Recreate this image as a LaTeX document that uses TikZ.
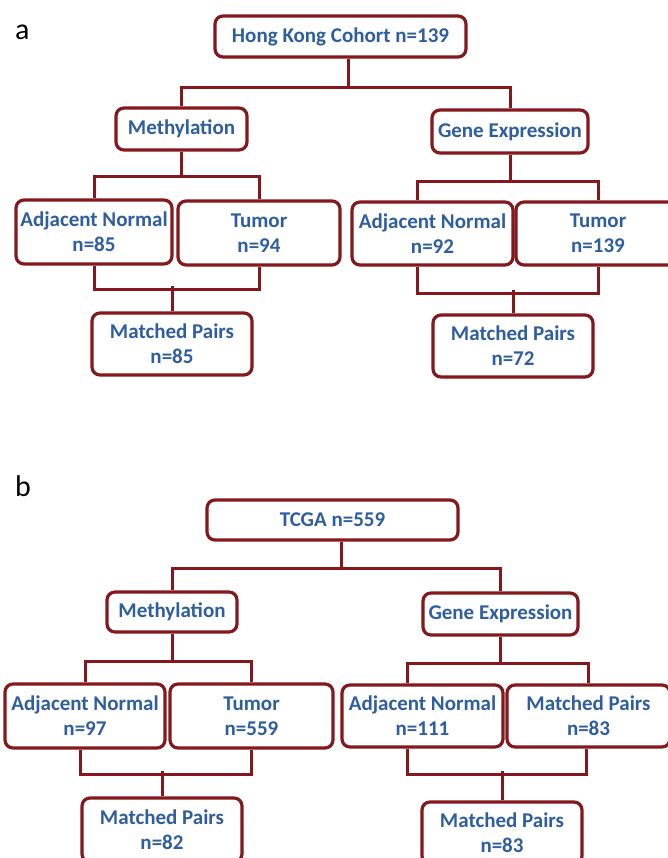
\documentclass[tikz,border=0pt]{standalone}
\usepackage{fontspec}
\setmainfont{Carlito}
\definecolor{boxred}{HTML}{85181C}
\definecolor{txtblue}{HTML}{2E5EA0}

\tikzset{
  cbox/.style={draw=boxred, line width=3.2pt, rounded corners=8pt, fill=white,
    inner sep=0pt, align=center, text=txtblue,
    font=\fontsize{21}{25}\selectfont\bfseries},
  link/.style={draw=boxred, line width=3pt},
  panel/.style={anchor=base west, inner sep=0pt, font=\fontsize{30}{30}\selectfont}
}

\begin{document}
\begin{tikzpicture}[x=1pt, y=-1pt]
\path[use as bounding box] (0,0) rectangle (668,858);

% panel a
\node[panel] (lbla) at (15,40) {a};
\node[cbox, minimum width=251, minimum height=41] (hk) at (340.5,36.5) {Hong Kong Cohort n=139};
\node[cbox, minimum width=131, minimum height=42] (me1) at (181.5,129) {Methylation};
\node[cbox, minimum width=156, minimum height=43] (ge1) at (510,131.5) {Gene Expression};
\node[cbox, minimum width=156, minimum height=64] (an1) at (94,232) {Adjacent Normal\\n=85};
\node[cbox, minimum width=162, minimum height=64] (tu1) at (259,233) {Tumor\\n=94};
\node[cbox, minimum width=160, minimum height=62] (mp1) at (172,344) {Matched Pairs\\n=85};
\node[cbox, minimum width=161, minimum height=63] (an2) at (432.5,233.5) {Adjacent Normal\\n=92};
\node[cbox, minimum width=164, minimum height=63] (tu2) at (598,233.5) {Tumor\\n=139};
\node[cbox, minimum width=160, minimum height=62] (mp2) at (513,346) {Matched Pairs\\n=72};

\draw[link] ([xshift=8pt]hk.south) -- ++(0,29) -| (me1.north);
\draw[link] ([xshift=8pt]hk.south) -- ++(0,29) -| (ge1.north);
\draw[link] (me1.south) -- ++(0,25) -| (an1.north);
\draw[link] (me1.south) -- ++(0,25) -| (tu1.north);
\draw[link] (an1.south) -- ++(0,24) -| (tu1.south);
\draw[link] (mp1.north) -- ++(0,-25);
\draw[link] (ge1.south) -- ++(0,27) -| ([xshift=-15pt]an2.north);
\draw[link] (ge1.south) -- ++(0,27) -| (tu2.north);
\draw[link] ([xshift=-15pt]an2.south) -- ++(0,27) -| (tu2.south);
\draw[link] (mp2.north) -- ++(0,-23);

% panel b
\node[panel] (lblb) at (15,496) {b};
\node[cbox, minimum width=251, minimum height=40] (tc) at (332.5,520) {TCGA n=559};
\node[cbox, minimum width=130, minimum height=40] (me2) at (172,612) {Methylation};
\node[cbox, minimum width=155, minimum height=42] (ge2) at (500.5,614) {Gene Expression};
\node[cbox, minimum width=160, minimum height=64] (an3) at (85,716) {Adjacent Normal\\n=97};
\node[cbox, minimum width=163, minimum height=64] (tu3) at (251.5,716) {Tumor\\n=559};
\node[cbox, minimum width=160, minimum height=64] (mp3) at (162,830) {Matched Pairs\\n=82};
\node[cbox, minimum width=161, minimum height=62] (an4) at (422.5,716) {Adjacent Normal\\n=111};
\node[cbox, minimum width=163, minimum height=62] (mp4) at (588.5,716) {Matched Pairs\\n=83};
\node[cbox, minimum width=160, minimum height=62] (mp5) at (502,833) {Matched Pairs\\n=83};

\draw[link] ([xshift=9pt]tc.south) -- ++(0,27) -| (me2.north);
\draw[link] ([xshift=9pt]tc.south) -- ++(0,27) -| (ge2.north);
\draw[link] (me2.south) -- ++(0,28) -| (an3.north);
\draw[link] (me2.south) -- ++(0,28) -| (tu3.north);
\draw[link] ([xshift=-5pt]an3.south) -- ++(0,25) -| (tu3.south);
\draw[link] (mp3.north) -- ++(0,-25);
\draw[link] (ge2.south) -- ++(0,27) -| ([xshift=-15pt]an4.north);
\draw[link] (ge2.south) -- ++(0,27) -| (mp4.north);
\draw[link] ([xshift=-15pt]an4.south) -- ++(0,26) -| ([xshift=-2pt]mp4.south);
\draw[link] (mp5.north) -- ++(0,-29);
\end{tikzpicture}
\end{document}
